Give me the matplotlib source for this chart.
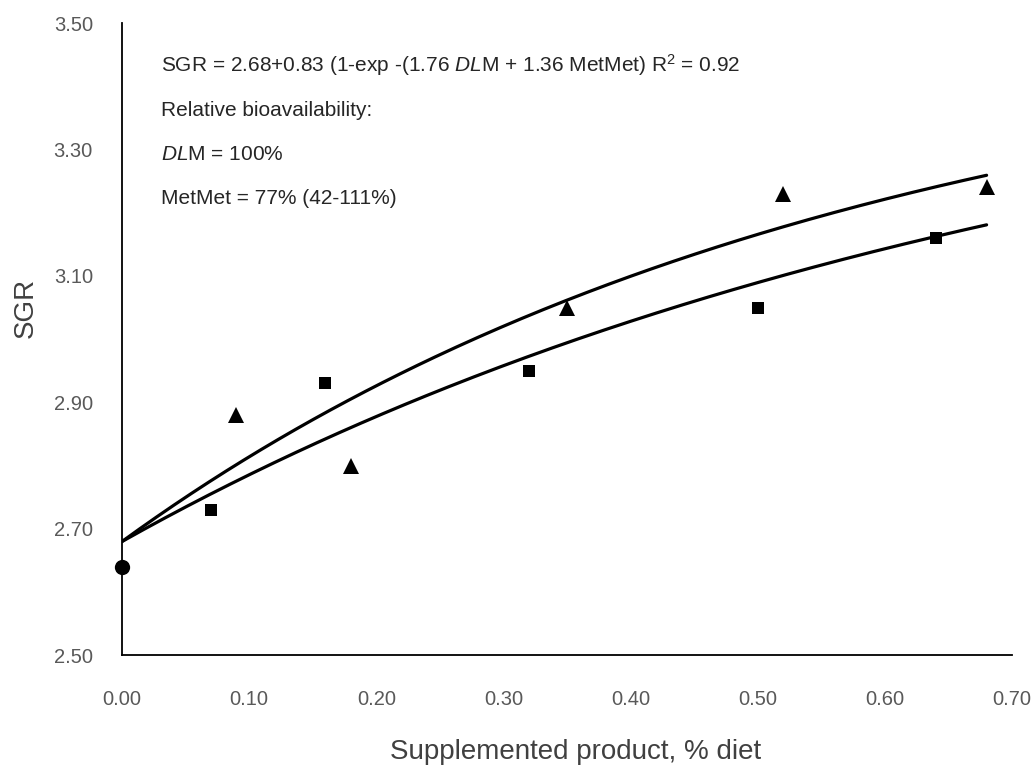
import numpy as np
import matplotlib
matplotlib.use("Agg")
import matplotlib.pyplot as plt

plt.rcParams['font.family'] = ['Liberation Sans', 'DejaVu Sans']
plt.rcParams['mathtext.fontset'] = 'custom'
plt.rcParams['mathtext.rm'] = 'Liberation Sans'
plt.rcParams['mathtext.it'] = 'Liberation Sans:italic'

# donnees
control_x = [0.00]
control_y = [2.64]

dlm_x = [0.09, 0.18, 0.35, 0.52, 0.68]
dlm_y = [2.88, 2.80, 3.05, 3.23, 3.24]

metmet_x = [0.07, 0.16, 0.32, 0.50, 0.64]
metmet_y = [2.73, 2.93, 2.95, 3.05, 3.16]

# parametres du modele affiche dans le graphique
a, b = 2.68, 0.83
k_dlm, k_metmet = 1.76, 1.36
x_max_fit = 0.68

x_ticks = [0.00, 0.10, 0.20, 0.30, 0.40, 0.50, 0.60, 0.70]
y_ticks = [2.50, 2.70, 2.90, 3.10, 3.30, 3.50]

fig = plt.figure(figsize=(10.35, 7.67), dpi=100)
ax = fig.add_axes([0.1179, 0.1456, 0.8599, 0.8244])

xs = np.linspace(0, x_max_fit, 200)
ax.plot(xs, a + b * (1 - np.exp(-k_dlm * xs)), color='black', lw=2.3, solid_capstyle='round')
ax.plot(xs, a + b * (1 - np.exp(-k_metmet * xs)), color='black', lw=2.3, solid_capstyle='round')

ax.plot(dlm_x, dlm_y, '^', color='black', ms=11, mew=0, clip_on=False)
ax.plot(metmet_x, metmet_y, 's', color='black', ms=8, mew=0, clip_on=False)
ax.plot(control_x, control_y, 'o', color='black', ms=11, mew=0, clip_on=False, zorder=5)

ax.set_xlim(0, 0.70)
ax.set_ylim(2.50, 3.50)
ax.set_xticks(x_ticks)
ax.set_yticks(y_ticks)
ax.set_xticklabels([f"{v:.2f}" for v in x_ticks])
ax.set_yticklabels([f"{v:.2f}" for v in y_ticks])
ax.tick_params(axis='x', length=0, pad=25, labelsize=14.5, labelcolor='#595959')
ax.tick_params(axis='y', length=0, pad=21, labelsize=14.5, labelcolor='#595959')

for s in ['top', 'right']:
    ax.spines[s].set_visible(False)
for s in ['left', 'bottom']:
    ax.spines[s].set_linewidth(1.3)
    ax.spines[s].set_color('black')

ax.set_xlabel("Supplemented product, % diet", fontsize=20, color='#404040')
ax.set_ylabel("SGR", fontsize=20, color='#404040')
ax.xaxis.set_label_coords(0.510, -0.133)
ax.yaxis.set_label_coords(-0.093, 0.549)

txt_col = '#262626'
ax.text(0.0435, 0.9230, r"SGR = 2.68+0.83 (1-exp -(1.76 $\mathit{DL}$M + 1.36 MetMet) R$^2$ = 0.92",
        transform=ax.transAxes, fontsize=15, color=txt_col, va='baseline')
ax.text(0.0435, 0.8534, "Relative bioavailability:", transform=ax.transAxes,
        fontsize=15, color=txt_col, va='baseline')
ax.text(0.0435, 0.7833, r"$\mathit{DL}$M = 100%", transform=ax.transAxes,
        fontsize=15, color=txt_col, va='baseline')
ax.text(0.0435, 0.7133, "MetMet = 77% (42-111%)", transform=ax.transAxes,
        fontsize=15, color=txt_col, va='baseline')

fig.savefig("out.png", dpi=100)
